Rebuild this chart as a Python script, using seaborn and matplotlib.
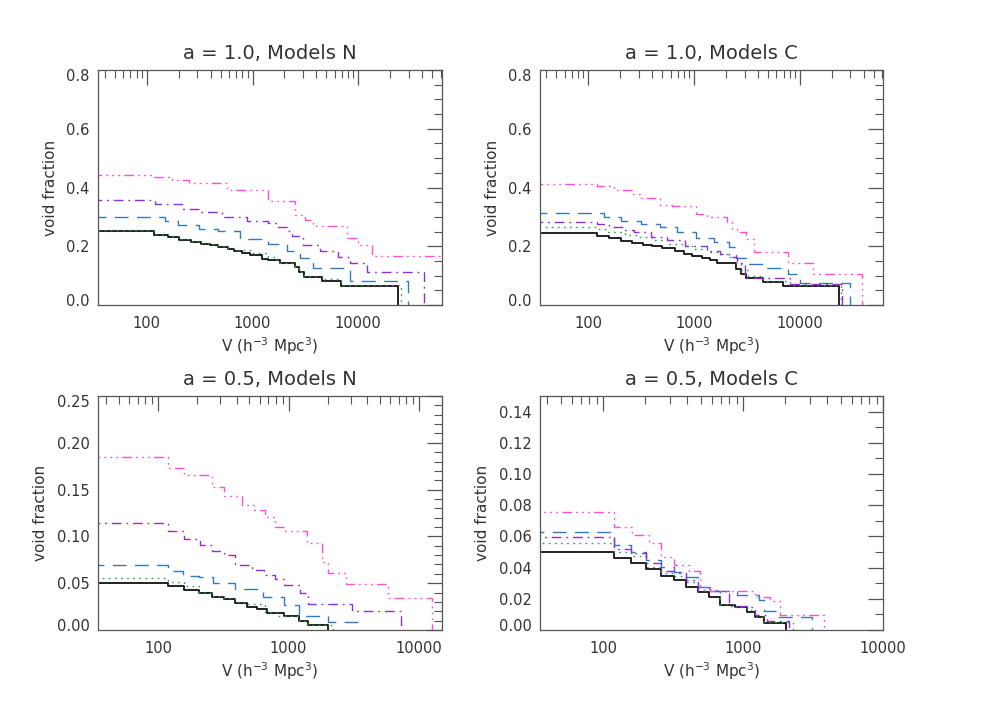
import numpy as np
import pandas as pd
import matplotlib
matplotlib.use("Agg")
import matplotlib.pyplot as plt
import matplotlib.transforms as mtransforms
from matplotlib.ticker import FixedLocator, MultipleLocator, LogLocator, NullFormatter, FormatStrFormatter
import seaborn as sns

# ---- data: step edges V (h^-3 Mpc^3) and void fraction on each step ----
# a = 1.0, Models N
n1_black_v = [118, 158, 202, 260, 326, 396, 475, 582, 673, 790, 947, 1220, 1410, 1820, 2520, 2750, 3090, 4570, 6850, 23600]
n1_black_f = [0.251, 0.240, 0.231, 0.222, 0.215, 0.208, 0.203, 0.199, 0.192, 0.183, 0.176, 0.169, 0.158, 0.153, 0.144, 0.128, 0.113, 0.094, 0.083, 0.065]
n1_green_v = [118, 158, 202, 260, 326, 396, 475, 582, 673, 980, 1410, 1630, 1820, 2520, 2750, 3090, 4570, 6850, 25300]
n1_green_f = [0.256, 0.243, 0.234, 0.226, 0.219, 0.212, 0.206, 0.201, 0.195, 0.188, 0.178, 0.165, 0.153, 0.142, 0.128, 0.113, 0.099, 0.090, 0.067]
n1_blue_v = [150, 199, 312, 469, 762, 1413, 2104, 2810, 3760, 8340, 29700]
n1_blue_f = [0.299, 0.285, 0.274, 0.260, 0.251, 0.226, 0.208, 0.183, 0.160, 0.125, 0.083]
n1_purple_v = [120, 217, 308, 512, 881, 1413, 1730, 2104, 2344, 3020, 4345, 6470, 8340, 12000, 42100]
n1_purple_f = [0.356, 0.345, 0.328, 0.315, 0.299, 0.2875, 0.278, 0.267, 0.253, 0.235, 0.205, 0.185, 0.165, 0.144, 0.114]
n1_magenta_v = [118, 172, 250, 570, 1413, 2520, 3130, 3760, 7760, 10000, 13400, 200000]
n1_magenta_f = [0.441, 0.4375, 0.425, 0.415, 0.392, 0.353, 0.307, 0.290, 0.269, 0.227, 0.205, 0.167]

# a = 1.0, Models C
c1_black_v = [121, 158, 206, 261, 331, 403, 500, 653, 800, 958, 1189, 1425, 1645, 2500, 2766, 3107, 4520, 6870, 23440]
c1_black_f = [0.245, 0.236, 0.227, 0.218, 0.211, 0.2045, 0.200, 0.195, 0.184, 0.175, 0.168, 0.161, 0.152, 0.142, 0.123, 0.1045, 0.091, 0.0795, 0.0636]
c1_green_v = [121, 154, 221, 291, 403, 578, 800, 993, 1325, 1742, 2118, 2500, 2766, 3266, 4520, 8050, 24650]
c1_green_f = [0.267, 0.259, 0.250, 0.239, 0.232, 0.223, 0.209, 0.200, 0.189, 0.182, 0.173, 0.164, 0.143, 0.120, 0.100, 0.082, 0.068]
c1_blue_v = [141, 203, 318, 475, 692, 1052, 1531, 2118, 2500, 3107, 4864, 7760, 10000, 29500]
c1_blue_f = [0.3125, 0.300, 0.2875, 0.275, 0.264, 0.248, 0.2295, 0.214, 0.198, 0.161, 0.141, 0.127, 0.106, 0.075]
c1_purple_v = [121, 158, 215, 271, 388, 557, 828, 1325, 1742, 2118, 2520, 3040, 8050, 25000]
c1_purple_f = [0.284, 0.275, 0.264, 0.2545, 0.248, 0.232, 0.223, 0.200, 0.184, 0.173, 0.164, 0.143, 0.092, 0.0705]
c1_magenta_v = [121, 176, 261, 313, 475, 621, 1052, 1325, 2042, 2277, 2520, 3107, 3690, 7760, 13330, 38800]
c1_magenta_f = [0.4125, 0.4045, 0.391, 0.377, 0.364, 0.341, 0.336, 0.309, 0.298, 0.284, 0.259, 0.248, 0.225, 0.180, 0.143, 0.106]

# a = 0.5, Models N
n5_black_v = [119, 157, 205, 259, 318, 391, 480, 573, 683, 931, 1200, 1400, 2000]
n5_black_f = [0.0507, 0.0472, 0.0429, 0.0394, 0.0351, 0.033, 0.0287, 0.0245, 0.0223, 0.0181, 0.0145, 0.0099, 0.0057]
n5_green_v = [119, 157, 205, 259, 318, 391, 480, 662, 828, 1207, 1406, 2207]
n5_green_f = [0.056, 0.0514, 0.0472, 0.040, 0.0365, 0.0337, 0.030, 0.0273, 0.0195, 0.0152, 0.0099, 0.0057]
n5_blue_v = [120, 155, 205, 265, 390, 640, 916, 1210, 2000, 3430]
n5_blue_f = [0.069, 0.0635, 0.058, 0.0565, 0.0505, 0.044, 0.035, 0.0265, 0.0145, 0.0089]
n5_purple_v = [119, 157, 211, 259, 318, 391, 524, 644, 791, 931, 1228, 1422, 3055, 7280]
n5_purple_f = [0.1138, 0.1057, 0.0968, 0.0904, 0.0848, 0.0798, 0.0691, 0.0642, 0.0585, 0.0543, 0.0482, 0.040, 0.028, 0.0202]
n5_magenta_v = [119, 157, 259, 318, 440, 540, 660, 790, 942, 1381, 1799, 2023, 2748, 5754, 12500]
n5_magenta_f = [0.1844, 0.1727, 0.1656, 0.1525, 0.143, 0.134, 0.128, 0.121, 0.1103, 0.1053, 0.0926, 0.073, 0.0613, 0.0489, 0.034]

# a = 0.5, Models C
c5_black_v = [120, 158, 204, 259, 320, 394, 477, 569, 681, 881, 1069, 1225, 1405, 2042]
c5_black_f = [0.0502, 0.0462, 0.0432, 0.0389, 0.0346, 0.0321, 0.0278, 0.0244, 0.0214, 0.0162, 0.0145, 0.0118, 0.0085, 0.0043]
c5_green_v = [120, 158, 204, 259, 320, 394, 477, 681, 881, 1069, 1225, 1405, 2275]
c5_green_f = [0.0556, 0.0502, 0.0474, 0.0402, 0.0368, 0.0346, 0.0308, 0.0256, 0.0167, 0.015, 0.0128, 0.0085, 0.0051]
c5_blue_v = [120, 158, 204, 259, 320, 394, 477, 569, 906, 1295, 1405, 1770, 3111]
c5_blue_f = [0.0628, 0.0547, 0.050, 0.0449, 0.0406, 0.0372, 0.0342, 0.0274, 0.0250, 0.0222, 0.0192, 0.0124, 0.0081]
c5_purple_v = [120, 158, 204, 259, 320, 394, 477, 580, 791, 1069, 1225, 1483, 2118]
c5_purple_f = [0.0594, 0.0521, 0.0491, 0.0432, 0.038, 0.0368, 0.0321, 0.0252, 0.0248, 0.0154, 0.0145, 0.0094, 0.0056]
c5_magenta_v = [120, 161, 212, 259, 320, 409, 490, 578, 1225, 1567, 1828, 3768]
c5_magenta_f = [0.0756, 0.0658, 0.0611, 0.056, 0.047, 0.0415, 0.0376, 0.0278, 0.0252, 0.0214, 0.0188, 0.0096]

models = ["black", "green", "blue", "purple", "magenta"]
palette = {"black": "#111111", "green": "#2ca05a", "blue": "#2f7bbd",
           "purple": "#8e2fd6", "magenta": "#ff4fd8"}
dashes = {"black": "", "green": (1.2, 3.2), "blue": (10, 6),
          "purple": (7, 3.5, 1.3, 3.5),
          "magenta": (7, 3, 1.3, 3, 1.3, 3, 1.3, 3)}

X_START = 30

panels = [
    ("a = 1.0, Models N", [(n1_black_v, n1_black_f), (n1_green_v, n1_green_f), (n1_blue_v, n1_blue_f),
                           (n1_purple_v, n1_purple_f), (n1_magenta_v, n1_magenta_f)],
     (34.5, 62000), (0, 0.8), 0.2, 0.05, "%.1f", [0.0999, 0.5649, 0.3507, 0.3352]),
    ("a = 1.0, Models C", [(c1_black_v, c1_black_f), (c1_green_v, c1_green_f), (c1_blue_v, c1_blue_f),
                           (c1_purple_v, c1_purple_f), (c1_magenta_v, c1_magenta_f)],
     (35, 61000), (0, 0.8), 0.2, 0.05, "%.1f", [0.5505, 0.5649, 0.3496, 0.3352]),
    ("a = 0.5, Models N", [(n5_black_v, n5_black_f), (n5_green_v, n5_green_f), (n5_blue_v, n5_blue_f),
                           (n5_purple_v, n5_purple_f), (n5_magenta_v, n5_magenta_f)],
     (34.7, 15000), (0, 0.25), 0.05, 0.01, "%.2f", [0.0999, 0.1013, 0.3507, 0.3338]),
    ("a = 0.5, Models C", [(c5_black_v, c5_black_f), (c5_green_v, c5_green_f), (c5_blue_v, c5_blue_f),
                           (c5_purple_v, c5_purple_f), (c5_magenta_v, c5_magenta_f)],
     (35.5, 10000), (0, 0.15), 0.02, 0.01, "%.2f", [0.5505, 0.1013, 0.3496, 0.3338]),
]

sns.set_theme(style="white")
plt.rcParams["font.family"] = ["DejaVu Sans"]
TXT = "#333333"
plt.rcParams.update({"text.color": TXT, "axes.labelcolor": TXT,
                     "xtick.color": "#555555", "ytick.color": "#555555"})

fig = plt.figure(figsize=(9.81, 7.01), dpi=100)
up = mtransforms.ScaledTranslation(0, 5 / 100, fig.dpi_scale_trans)
down = mtransforms.ScaledTranslation(0, -5 / 100, fig.dpi_scale_trans)

for title, series, xlim, ylim, ymaj, ymin, fmt, rect in panels:
    ax = fig.add_axes(rect)
    rows = []
    for name, (v, f) in zip(models, series):
        xs = [X_START] + list(v)
        ys = list(f) + [0.0]
        rows += [{"V": x, "frac": y, "model": name} for x, y in zip(xs, ys)]
    df = pd.DataFrame(rows)
    sns.lineplot(data=df, x="V", y="frac", hue="model", style="model",
                 hue_order=models, style_order=models, palette=palette,
                 dashes=dashes, estimator=None, sort=False, legend=False,
                 drawstyle="steps-post", linewidth=1.0, ax=ax)
    ax.lines[0].set_linewidth(1.3)

    ax.set_xscale("log")
    ax.set_xlim(*xlim)
    ax.set_ylim(*ylim)
    ax.xaxis.set_major_locator(FixedLocator([100, 1000, 10000]))
    ax.set_xticklabels(["100", "1000", "10000"])
    ax.xaxis.set_minor_locator(LogLocator(base=10, subs=range(2, 10), numticks=20))
    ax.xaxis.set_minor_formatter(NullFormatter())
    ax.yaxis.set_major_locator(MultipleLocator(ymaj))
    ax.yaxis.set_minor_locator(MultipleLocator(ymin))
    ax.yaxis.set_major_formatter(FormatStrFormatter(fmt))

    ax.tick_params(which="both", direction="in", top=True, right=True,
                   labelsize=10.5, labelcolor=TXT)
    ax.tick_params(which="major", length=11, width=0.9)
    ax.tick_params(which="minor", length=6, width=0.8)
    ax.tick_params(axis="x", pad=8)
    ax.tick_params(axis="y", pad=6)
    for sp in ax.spines.values():
        sp.set_color("#555555")
        sp.set_linewidth(0.9)

    ax.set_title(title, fontsize=14, pad=8, color=TXT)
    ax.set_xlabel("V (h$^{-3}$ Mpc$^{3}$)", fontsize=11, labelpad=3)
    ax.set_ylabel("void fraction", fontsize=11, labelpad=6)

    # IDL-like: labels at the axis ends are nudged inside the axis range
    locs = ax.yaxis.get_majorticklocs()
    for loc, tick in zip(locs, ax.yaxis.get_major_ticks(len(locs))):
        if np.isclose(loc, ylim[0]):
            tick.label1.set_transform(tick.label1.get_transform() + up)
        elif np.isclose(loc, ylim[1]):
            tick.label1.set_transform(tick.label1.get_transform() + down)

fig.savefig("out.png", dpi=100)
